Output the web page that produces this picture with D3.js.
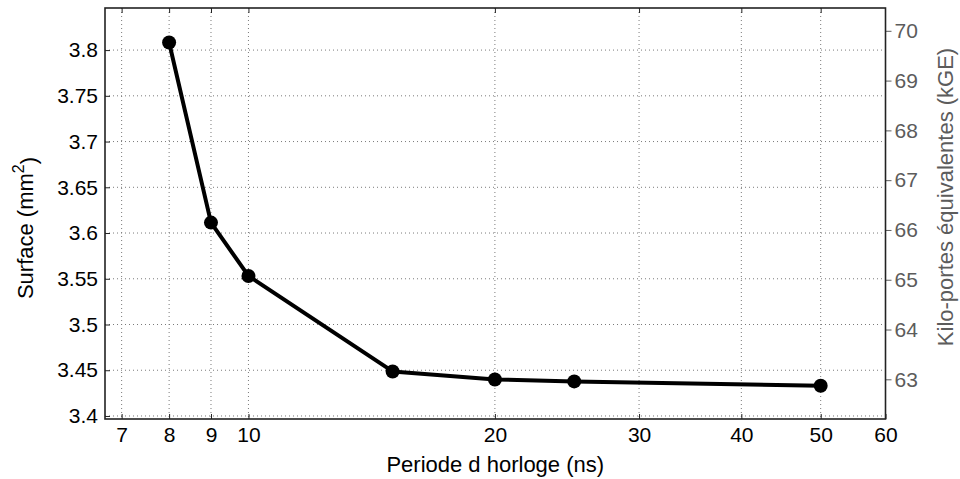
<!DOCTYPE html>
<html>
<head>
<meta charset="utf-8">
<script src="https://cdn.jsdelivr.net/npm/d3@7"></script>
<style>
  html, body { margin: 0; padding: 0; background: #fff; }
  svg { display: block; font-family: "Liberation Sans", Arial, Helvetica, sans-serif; }
</style>
</head>
<body>
<svg id="chart" width="960" height="479"></svg>
<script>
// ---- data ----
const periods = [8, 9, 10, 15, 20, 25, 50];
const surface = [3.8083, 3.6114, 3.5531, 3.4487, 3.4399, 3.4378, 3.4331];
const xTicks = [7, 8, 9, 10, 20, 30, 40, 50, 60];
const yLeftTicks = [3.4, 3.45, 3.5, 3.55, 3.6, 3.65, 3.7, 3.75, 3.8];
const yRightTicks = [63, 64, 65, 66, 67, 68, 69, 70];
const xTitle = "Periode d horloge (ns)";
const yLeftTitle = "Surface (mm";
const yRightTitle = "Kilo-portes équivalentes (kGE)";

// ---- layout ----
const L = 105, R = 885.5, T = 8, B = 419;
const svg = d3.select("#chart");

const x = d3.scaleLog().domain([6.68, 60]).range([L, R]);
const yL = d3.scaleLinear().domain([3.3967, 3.846]).range([B, T]);
const yR = d3.scaleLinear().domain([62.203, 70.458]).range([B, T]);

const gridColor = "#7a7a7a";
const boxColor = "#222";
const rightColor = "#5c5c5c";

// grid
const grid = svg.append("g");
grid.selectAll("line.v").data(xTicks.filter(d => d < 60)).join("line")
  .attr("x1", d => x(d)).attr("x2", d => x(d))
  .attr("y1", T).attr("y2", B)
  .attr("stroke", gridColor).attr("stroke-width", 1)
  .attr("stroke-dasharray", "1,3");
grid.selectAll("line.h").data(yLeftTicks).join("line")
  .attr("x1", L).attr("x2", R)
  .attr("y1", d => yL(d)).attr("y2", d => yL(d))
  .attr("stroke", gridColor).attr("stroke-width", 1)
  .attr("stroke-dasharray", "1,3");

// axes
const fmtL = d => String(+d.toFixed(2));
const gLeft = svg.append("g").attr("transform", `translate(${L},0)`)
  .call(d3.axisLeft(yL).tickValues(yLeftTicks).tickFormat(fmtL)
        .tickSizeInner(-5).tickSizeOuter(0).tickPadding(7));
const gBottom = svg.append("g").attr("transform", `translate(0,${B})`)
  .call(d3.axisBottom(x).tickValues(xTicks).tickFormat(d3.format("d"))
        .tickSizeInner(-5).tickSizeOuter(0).tickPadding(8));
const gTop = svg.append("g").attr("transform", `translate(0,${T})`)
  .call(d3.axisTop(x).tickValues(xTicks.filter(d => d < 60)).tickFormat("")
        .tickSizeInner(-5).tickSizeOuter(0));
const gRight = svg.append("g").attr("transform", `translate(${R},0)`)
  .call(d3.axisRight(yR).tickValues(yRightTicks).tickFormat(d3.format("d"))
        .tickSizeInner(6).tickSizeOuter(0).tickPadding(3));

[gLeft, gBottom, gTop].forEach(g => {
  g.select(".domain").remove();
  g.selectAll(".tick line").attr("stroke", boxColor).attr("stroke-width", 1);
  g.selectAll("text").attr("fill", "#000").style("font-size", "21px")
    .style("font-family", '"Liberation Sans", Arial, sans-serif');
});
gRight.select(".domain").remove();
gRight.selectAll(".tick line").attr("stroke", rightColor).attr("stroke-width", 1);
gRight.selectAll("text").attr("fill", rightColor).style("font-size", "21px")
  .style("font-family", '"Liberation Sans", Arial, sans-serif');

// box
svg.append("rect").attr("x", L).attr("y", T).attr("width", R - L).attr("height", B - T)
  .attr("fill", "none").attr("stroke", boxColor).attr("stroke-width", 1.6);

// line + markers
const pts = periods.map((p, i) => [p, surface[i]]);
svg.append("path").datum(pts)
  .attr("d", d3.line().x(d => x(d[0])).y(d => yL(d[1])))
  .attr("fill", "none").attr("stroke", "#000").attr("stroke-width", 4)
  .attr("stroke-linejoin", "round");
svg.append("g").selectAll("circle").data(pts).join("circle")
  .attr("cx", d => x(d[0])).attr("cy", d => yL(d[1])).attr("r", 7)
  .attr("fill", "#000");

// titles
svg.append("text").attr("x", (L + R) / 2).attr("y", 472)
  .attr("text-anchor", "middle").style("font-size", "22px").attr("fill", "#000")
  .text(xTitle);

const lt = svg.append("text").attr("transform", "translate(33,228) rotate(-90)")
  .attr("text-anchor", "middle").style("font-size", "22px").attr("fill", "#000");
lt.append("tspan").text(yLeftTitle);
lt.append("tspan").attr("dy", "-0.55em").style("font-size", "16px").text("2");
lt.append("tspan").attr("dy", "0.55em").text(")");

svg.append("text").attr("transform", "translate(953,197) rotate(-90)")
  .attr("text-anchor", "middle").style("font-size", "22px").attr("fill", rightColor)
  .text(yRightTitle);
</script>
</body>
</html>
